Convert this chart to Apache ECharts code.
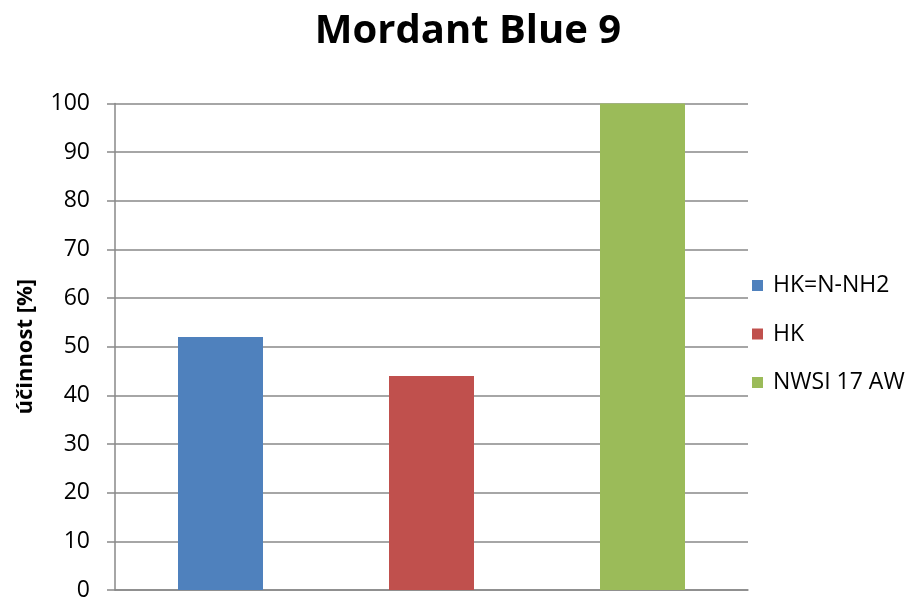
<!DOCTYPE html>
<html>
<head>
<meta charset="utf-8">
<script src="https://cdn.jsdelivr.net/npm/echarts@6/dist/echarts.min.js"></script>
<style>
  html, body { margin: 0; padding: 0; background: #fff; }
  #chart { width: 911px; height: 599px; }
</style>
</head>
<body>
<div id="chart"></div>
<script>
// Dye removal efficiency per sorbent
const seriesNames = ['HK=N-NH2', 'HK', 'NWSI 17 AW'];
const efficiency = [52, 44, 100];
const seriesColors = ['#4f81bd', '#c0504d', '#9bbb59'];
const yTicks = { min: 0, max: 100, interval: 10 };

const gridColor = '#898989';
const font = '"Open Sans", "Liberation Sans", sans-serif';

// One bar per sorbent, each in its own slot on the category axis
const series = seriesNames.map((name, i) => ({
  name: name,
  type: 'bar',
  stack: 'all',
  barWidth: 85,
  itemStyle: { color: seriesColors[i] },
  data: seriesNames.map((_, j) => (j === i ? efficiency[i] : '-'))
}));

const chart = echarts.init(document.getElementById('chart'), null, { renderer: 'canvas' });
chart.setOption({
  animation: false,
  backgroundColor: '#ffffff',
  title: {
    text: 'Mordant Blue 9',
    left: 463,
    textAlign: 'center',
    top: 7,
    textStyle: { fontFamily: font, fontWeight: 'bold', fontSize: 40, color: '#000' }
  },
  legend: {
    orient: 'vertical',
    left: 747,
    top: 269,
    itemWidth: 11,
    itemHeight: 11,
    itemGap: 25.5,
    icon: 'rect',
    data: seriesNames,
    textStyle: { fontFamily: font, fontSize: 23, color: '#000', lineHeight: 22, padding: [0, 0, 0, 5] }
  },
  grid: { left: 115, right: 163, top: 103.5, bottom: 9, containLabel: false, outerBoundsMode: 'none' },
  xAxis: {
    type: 'category',
    data: seriesNames,
    axisLine: { show: true, lineStyle: { color: gridColor, width: 1.5 } },
    axisTick: { show: false },
    axisLabel: { show: false },
    splitLine: { show: false }
  },
  yAxis: {
    type: 'value',
    min: yTicks.min,
    max: yTicks.max,
    interval: yTicks.interval,
    name: 'účinnost [%]',
    nameLocation: 'middle',
    nameRotate: 90,
    nameGap: 78,
    nameTextStyle: { fontFamily: font, fontWeight: 'bold', fontSize: 22, color: '#000' },
    axisLine: { show: true, lineStyle: { color: gridColor, width: 1.5 } },
    axisTick: { show: true, length: 8, inside: false, lineStyle: { color: gridColor, width: 1.5 } },
    axisLabel: { fontFamily: font, fontSize: 23, color: '#000', margin: 25 },
    splitLine: { show: true, lineStyle: { color: gridColor, width: 1.5 } }
  },
  series: series
});
</script>
</body>
</html>
